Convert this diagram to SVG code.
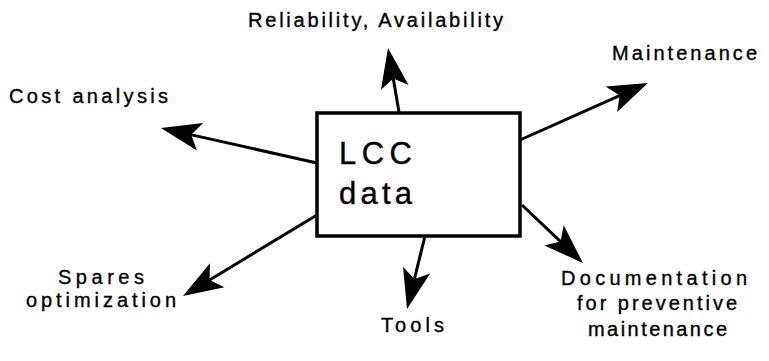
<svg xmlns="http://www.w3.org/2000/svg" width="769" height="361" viewBox="0 0 769 361">
  <style>
    .lbl { font-family: "Liberation Sans", Arial, sans-serif; font-size: 20px; fill: #000; stroke: #000; stroke-width: 0.35; }
    .big { font-family: "Liberation Sans", Arial, sans-serif; font-size: 31px; fill: #000; stroke: #000; stroke-width: 0.4; }
    .box { fill: #fff; stroke: #000; stroke-width: 3.5; }
    .conn { stroke: #000; stroke-width: 3; fill: none; marker-end: url(#head); }
  </style>
  <defs>
    <!-- barbed, filled arrowhead; tip sits 20px past the line end -->
    <marker id="head" markerUnits="userSpaceOnUse" orient="auto" refX="-20" refY="0" markerWidth="1" markerHeight="1" overflow="visible">
      <path d="M0,0 L-40,-14 L-31,0 L-40,14 Z" fill="#000"/>
    </marker>
  </defs>
  <rect width="769" height="361" fill="#fff"/>

  <g id="connectors">
    <path class="conn" d="M317,163 L180.5,132.4"/>
    <path class="conn" d="M399,112 L391.4,67.7"/>
    <path class="conn" d="M520,140 L629.7,91.1"/>
    <path class="conn" d="M317,215 L200.1,285.7"/>
    <path class="conn" d="M425,236 L411.8,289.6"/>
    <path class="conn" d="M522,205 L568.5,249.2"/>
  </g>

  <g id="lcc-data">
    <rect class="box" x="317" y="113" width="203" height="123"/>
    <text class="big" x="339" y="164" textLength="73" lengthAdjust="spacing">LCC</text>
    <text class="big" x="339" y="204" textLength="73" lengthAdjust="spacing">data</text>
  </g>

  <g id="reliability">
    <text class="lbl" x="248" y="27" textLength="255" lengthAdjust="spacing">Reliability, Availability</text>
  </g>
  <g id="maintenance">
    <text class="lbl" x="612" y="60" textLength="145" lengthAdjust="spacing">Maintenance</text>
  </g>
  <g id="cost-analysis">
    <text class="lbl" x="9" y="103" textLength="159" lengthAdjust="spacing">Cost analysis</text>
  </g>
  <g id="spares">
    <text class="lbl" x="58" y="284" textLength="86" lengthAdjust="spacing">Spares</text>
    <text class="lbl" x="26" y="307" textLength="150" lengthAdjust="spacing">optimization</text>
  </g>
  <g id="tools">
    <text class="lbl" x="381" y="332" textLength="63" lengthAdjust="spacing">Tools</text>
  </g>
  <g id="documentation">
    <text class="lbl" x="561" y="285" textLength="186" lengthAdjust="spacing">Documentation</text>
    <text class="lbl" x="577" y="310" textLength="160" lengthAdjust="spacing">for preventive</text>
    <text class="lbl" x="588" y="336" textLength="139" lengthAdjust="spacing">maintenance</text>
  </g>
</svg>
